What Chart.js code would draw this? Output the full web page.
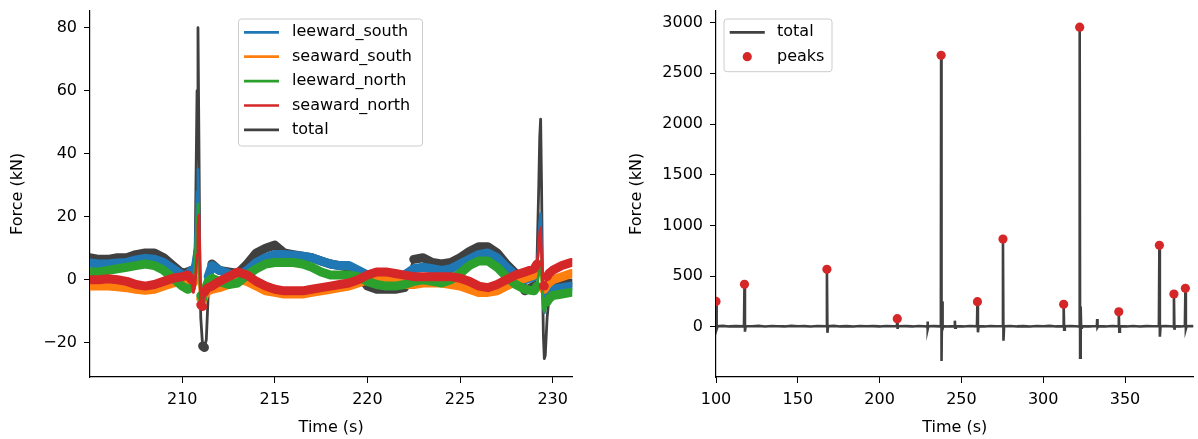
<!DOCTYPE html>
<html>
<head>
<meta charset="utf-8">
<script src="https://cdn.jsdelivr.net/npm/chart.js@4.4.1/dist/chart.umd.min.js"></script>
<style>
    html, body { margin: 0; padding: 0; background: #fff; }
    #wrap { position: relative; width: 1198px; height: 439px; overflow: hidden; }
    canvas { position: absolute; top: 0; }
    #left { left: 0; }
    #right { left: 600px; }
</style>
</head>
<body>
<div id="wrap">
    <canvas id="left" width="600" height="439"></canvas>
    <canvas id="right" width="598" height="439"></canvas>
</div>
<script>
// Left panel: zoom on the two slams around 210 s and 229 s
const timeZoom = [205, 205.5, 206, 206.5, 207, 207.5, 208, 208.5, 209, 209.5, 210, 210.3, 210.5, 210.6, 210.7, 210.8, 210.85, 210.9, 210.95, 211.0,
    211.1, 211.2, 211.3, 211.4, 211.6, 212, 212.5, 213, 213.5, 214, 214.5, 215, 215.5, 216, 216.5, 217, 217.5, 218, 218.5, 219,
    219.5, 220, 220.5, 221, 221.5, 222, 222.5, 223, 223.5, 224, 224.5, 225, 225.5, 226, 226.5, 227, 227.5, 228, 228.5, 229,
    229.15, 229.25, 229.3, 229.35, 229.4, 229.45, 229.5, 229.55, 229.6, 229.7, 229.8, 230, 230.5, 231];

const leewardSouth = [5.3, 5, 5, 5.3, 5.5, 6.3, 6.8, 6.5, 5.5, 3.5, 1.5, 1.5, 3, 6, 10, 28, 35, 20, 2, -6,
    -8, -6, -2, 1, 4.5, 3, 2, 1, 3, 5.5, 7, 8, 8, 7.8, 7.5, 7, 6, 5, 4.5, 4.5,
    3, 1.5, 1, 1, 1, 1.5, 3.5, 4, 3.5, 3, 3.5, 5, 6.5, 8, 8.5, 7, 4, 1.5, 0, 1,
    3, 12, 18, 21, 12, 0, -8, -10.5, -9, -5, -3.5, -3, -2.5, -2];

const seawardSouth = [-2, -2, -2, -2.2, -2.5, -3, -3.3, -3, -2, -1, -0.5, -0.5, -1, -1, 0, 3, 5, 3, -3, -6,
    -6.5, -5, -4, -3.5, -3, -2.5, -1.5, 0, -0.5, -2, -3.5, -4, -4.5, -4.5, -4.5, -4, -3.5, -3, -2.5, -2,
    -1, 0, 0.5, 0.5, -0.5, -1.5, -1.5, -1, -1, -1, -1.5, -2, -3, -4, -4, -3.5, -2, -0.5, 0.5, 1.5,
    2.5, 4, 5, 4, 1, -2, -3, -3, -2.5, -1.5, -1, 0, 1, 2];

const leewardNorth = [2.5, 2.5, 3, 3.5, 4, 4.5, 5, 4.5, 3, 0.5, -2, -3, -2.5, 0, 6, 20, 24, 15, 0, -5,
    -6, -4, -2, -0.5, 0.5, -0.5, -1.5, -1, 1.5, 3.5, 5, 5.5, 5.5, 5.5, 5, 4, 2.5, 1.5, 1.5, 1.5,
    1, -0.5, -1.5, -2, -2, -1.5, -0.5, 0, -0.5, -1, 0, 2, 4.5, 6, 6, 4, 1, -1.5, -3, -3.5,
    -2, 2, 5, 6, 2, -4, -9, -10, -9, -7, -6, -5, -4.5, -4];

const seawardNorth = [0, 0, 0.3, 0, -0.5, -1.5, -2, -1.5, -0.5, 0.5, 1, 1.5, 0, -4, -1, 8, 17, 20.5, 8, -8,
    -8.5, -4, -3, -2.5, -2, -0.5, 1, 2.5, 1.5, -0.5, -2, -3, -3.5, -3.5, -3.5, -3, -2.5, -2, -1.5, -1,
    0, 1.5, 2.5, 2.5, 2, 1.5, 1, 1, 1, 1, 1, 0.5, -0.5, -2, -2.5, -1.5, 0, 1.5, 2.5, 3.5,
    5, 10, 15, 16.5, 8, 0, -2, -2, -1, 1, 2, 3, 4.5, 5.5];

const totalZoom = [7, 6.5, 6.5, 7, 7, 8, 8.5, 8.5, 7, 4.5, 2, 2.5, 3, 5, 10, 60, 80, 45, 5, -12,
    -21, -21.5, -19, -5, 5, 3, 2.5, 2, 5, 8.5, 10, 11, 8.5, 8, 7.5, 7, 6, 5, 4.5, 4,
    2, -2, -3, -3, -3, -2.5, 6.5, 7, 5.5, 5, 5.5, 7, 9, 10.5, 10.5, 8.5, 5, 2, -3.5, -2,
    5, 30, 45, 51, 30, 0, -18, -25, -24, -12, -6, -3, -1.5, -1];

const zoomXTicks = [210, 215, 220, 225, 230];
const zoomYTicks = [-20, 0, 20, 40, 60, 80];

// Right panel: whole record with detected peaks
const timeFull = [100, 100.4, 101, 104, 108, 112, 117.1, 117.4, 117.7, 118.1, 122, 126, 130, 134, 138, 142, 146, 150, 154, 158,
    162, 167.5, 167.8, 168.1, 168.5, 172, 176, 180, 184, 188, 192, 196, 200, 204, 208, 210.6, 210.8, 211.0, 211.3, 216,
    220, 224, 229.1, 229.3, 229.5, 229.8, 233, 237.3, 237.45, 237.6, 237.85, 238.2, 238.5, 239, 242, 245.8, 246, 246.2, 246.6, 251,
    255, 259.5, 259.8, 260.1, 260.5, 264, 268, 271, 275.1, 275.4, 275.7, 276.1, 280, 284, 288, 292, 296, 300, 304, 308,
    312.2, 312.5, 312.8, 313.2, 317, 322.0, 322.3, 322.55, 322.9, 323.2, 323.6, 328, 332.8, 333, 333.2, 333.6, 338, 342, 345.9, 346.2,
    346.5, 346.9, 351, 355, 359, 363, 367, 370.7, 371, 371.3, 371.7, 375, 379.6, 379.9, 380.2, 380.6, 384, 386.6, 386.9, 387.2,
    387.6, 391, 392];

const totalFull = [250, -25, 5, 8, 3, 6, 4, 418, -49, 6, 4, 8, 2, 7, 5, 3, 8, 4, 6, 2,
    7, 4, 566, -60, 5, 8, 3, 6, 2, 7, 4, 6, 3, 7, 4, 6, 79, -21, 4, 6,
    3, 7, 2, 51, -25, 4, 6, 3, 250, 2678, -338, 250, -20, 6, 3, 5, 60, -10, 5, 3,
    7, 4, 247, -55, 5, 3, 7, 4, 6, 865, -138, 4, 7, 3, 6, 2, 7, 4, 8, 3,
    5, 221, -30, 4, 7, 3, 2955, -306, 200, -10, 5, 3, 6, 76, -5, 5, 3, 7, 4, 148,
    -49, 5, 3, 7, 2, 6, 4, 6, 803, -99, 4, 7, 3, 323, -30, 5, 3, 6, 379, -20,
    4, 6, 5];

const peakTimes = [100, 117.4, 167.8, 210.8, 237.6, 259.8, 275.4, 312.5, 322.3, 346.2, 371.0, 379.9, 386.9];
const peakForces = [250, 418, 566, 79, 2678, 247, 865, 221, 2955, 148, 803, 323, 379];

const fullXTicks = [100, 150, 200, 250, 300, 350];
const fullYTicks = [0, 500, 1000, 1500, 2000, 2500, 3000];

const colors = {
    blue: '#1f77b4',
    orange: '#ff7f0e',
    green: '#2ca02c',
    red: '#d62728',
    grey: '#404040'
};

Chart.defaults.font.family = '"DejaVu Sans", sans-serif';
Chart.defaults.font.size = 16;
Chart.defaults.color = '#000';

function pairs(xs, ys) {
    return xs.map((x, i) => ({ x: x, y: ys[i] }));
}

function fmtTick(v) {
    return v < 0 ? '\u2212' + Math.abs(v) : String(v);
}

// matplotlib style legend box drawn inside the axes
const boxLegend = {
    id: 'boxLegend',
    afterDraw(chart, args, opts) {
        if (!opts.items) return;
        const ctx = chart.ctx;
        const b = opts.box;
        const r = 3;
        ctx.save();
        ctx.beginPath();
        ctx.moveTo(b.x + r, b.y);
        ctx.lineTo(b.x + b.w - r, b.y);
        ctx.arcTo(b.x + b.w, b.y, b.x + b.w, b.y + r, r);
        ctx.lineTo(b.x + b.w, b.y + b.h - r);
        ctx.arcTo(b.x + b.w, b.y + b.h, b.x + b.w - r, b.y + b.h, r);
        ctx.lineTo(b.x + r, b.y + b.h);
        ctx.arcTo(b.x, b.y + b.h, b.x, b.y + b.h - r, r);
        ctx.lineTo(b.x, b.y + r);
        ctx.arcTo(b.x, b.y, b.x + r, b.y, r);
        ctx.closePath();
        ctx.fillStyle = 'rgba(255,255,255,0.8)';
        ctx.fill();
        ctx.strokeStyle = '#cccccc';
        ctx.lineWidth = 1;
        ctx.stroke();

        ctx.font = '16px "DejaVu Sans"';
        ctx.textBaseline = 'middle';
        opts.items.forEach((idx, i) => {
            const ds = chart.data.datasets[idx];
            const y = b.y + opts.firstRow + i * opts.rowH;
            if (ds.showLine === false) {
                ctx.beginPath();
                ctx.arc((opts.handle[0] + opts.handle[1]) / 2, y, 4.6, 0, Math.PI * 2);
                ctx.fillStyle = ds.pointBackgroundColor;
                ctx.fill();
            } else {
                ctx.beginPath();
                ctx.moveTo(opts.handle[0], y);
                ctx.lineTo(opts.handle[1], y);
                ctx.strokeStyle = ds.borderColor;
                ctx.lineWidth = 2.7;
                ctx.stroke();
            }
            ctx.fillStyle = '#000';
            ctx.fillText(ds.label, opts.textX, y);
        });
        ctx.restore();
    }
};

// noisy signals are drawn as a thick band, thin where the signal is steep
function bandWidth(ctx) {
    const dx = Math.abs(ctx.p1.x - ctx.p0.x);
    const dy = Math.abs(ctx.p1.y - ctx.p0.y);
    return dy > 3 * dx ? 2.8 : 9;
}

function bandSet(label, xs, ys, color, order) {
    return {
        label: label,
        data: pairs(xs, ys),
        borderColor: color,
        borderWidth: 9,
        borderCapStyle: 'round',
        borderJoinStyle: 'round',
        pointRadius: 0,
        tension: 0,
        order: order,
        segment: { borderWidth: bandWidth }
    };
}

function axisStyle(min, max, ticks, title, fit, titlePad) {
    return {
        type: 'linear',
        min: min,
        max: max,
        afterBuildTicks: s => { s.ticks = ticks.map(v => ({ value: v })); },
        afterFit: fit,
        ticks: { callback: fmtTick, autoSkip: false, maxRotation: 0, padding: 7, color: '#000' },
        grid: { display: true, drawOnChartArea: false, drawTicks: true, tickLength: 6, tickColor: '#000', tickWidth: 1 },
        border: { display: true, color: '#000', width: 1.2 },
        title: { display: true, text: title, color: '#000', padding: titlePad }
    };
}

const leftChart = new Chart(document.getElementById('left'), {
    type: 'line',
    data: {
        datasets: [
            bandSet('leeward_south', timeZoom, leewardSouth, colors.blue, 4),
            bandSet('seaward_south', timeZoom, seawardSouth, colors.orange, 3),
            bandSet('leeward_north', timeZoom, leewardNorth, colors.green, 2),
            bandSet('seaward_north', timeZoom, seawardNorth, colors.red, 1),
            bandSet('total', timeZoom, totalZoom, colors.grey, 5)
        ]
    },
    options: {
        responsive: false,
        animation: false,
        layout: { padding: { left: 0, right: 27.7, top: 10.7, bottom: 0 } },
        plugins: {
            legend: { display: false },
            tooltip: { enabled: false },
            boxLegend: {
                items: [0, 1, 2, 3, 4],
                box: { x: 238.5, y: 19, w: 184, h: 127 },
                firstRow: 13.3,
                rowH: 24.4,
                handle: [244, 279],
                textX: 292
            }
        },
        scales: {
            x: axisStyle(205.02, 231.06, zoomXTicks, 'Time (s)',
                s => { s.height = 62; s.paddingLeft = 0; s.paddingRight = 0; }, { top: 0, bottom: 1.4 }),
            y: axisStyle(-30.85, 85.4, zoomYTicks, 'Force (kN)',
                s => { s.width = 90; s.paddingTop = 0; s.paddingBottom = 0; }, { top: 8.6, bottom: 0 })
        }
    },
    plugins: [boxLegend]
});

const rightChart = new Chart(document.getElementById('right'), {
    type: 'line',
    data: {
        datasets: [
            {
                label: 'total',
                data: pairs(timeFull, totalFull),
                borderColor: colors.grey,
                borderWidth: 2.6,
                pointRadius: 0,
                tension: 0,
                order: 1
            },
            {
                label: 'peaks',
                data: pairs(peakTimes, peakForces),
                showLine: false,
                pointRadius: 4.6,
                pointBackgroundColor: colors.red,
                pointBorderWidth: 0,
                order: 0
            }
        ]
    },
    options: {
        responsive: false,
        animation: false,
        layout: { padding: { left: 0, right: 0, top: 10.7, bottom: 0 } },
        plugins: {
            legend: { display: false },
            tooltip: { enabled: false },
            boxLegend: {
                items: [0, 1],
                box: { x: 124, y: 19, w: 108, h: 52.7 },
                firstRow: 13.3,
                rowH: 24.4,
                handle: [129.7, 164.8],
                textX: 177
            }
        },
        scales: {
            x: axisStyle(100, 391.8, fullXTicks, 'Time (s)',
                s => { s.height = 62; s.paddingLeft = 0; s.paddingRight = 0; }, { top: 0, bottom: 1.4 }),
            y: axisStyle(-496, 3118, fullYTicks, 'Force (kN)',
                s => { s.width = 116; s.paddingTop = 0; s.paddingBottom = 0; }, { top: 26.8, bottom: 0 })
        }
    },
    plugins: [boxLegend]
});
</script>
</body>
</html>
